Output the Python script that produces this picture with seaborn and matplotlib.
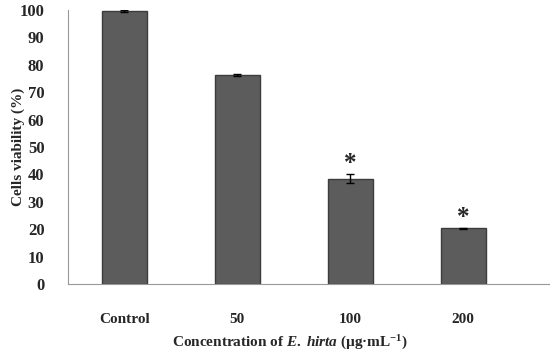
import numpy as np
import pandas as pd
import matplotlib
matplotlib.use("Agg")
import matplotlib.pyplot as plt
import seaborn as sns

# Podaci
categories = ["Control", "50", "100", "200"]
viability = [99.6, 76.3, 38.5, 20.3]
errors = [0.3, 0.5, 1.8, 0.3]
significant = [False, False, True, True]

sns.set_style("white")
plt.rcParams["font.family"] = ["Liberation Serif", "DejaVu Serif"]
plt.rcParams["font.weight"] = "bold"
plt.rcParams["mathtext.fontset"] = "custom"
plt.rcParams["mathtext.rm"] = "Liberation Serif:bold"
plt.rcParams["mathtext.bf"] = "Liberation Serif:bold"
plt.rcParams["mathtext.it"] = "Liberation Serif:italic:bold"
plt.rcParams["mathtext.bfit"] = "Liberation Serif:italic:bold"

df = pd.DataFrame({"conc": categories, "viab": viability})

fig = plt.figure(figsize=(5.5, 3.51), dpi=100)
ax = fig.add_axes([68 / 550, 1 - 284 / 351, 1 - 68 / 550, 274 / 351])

sns.barplot(data=df, x="conc", y="viab", color="#5c5c5c", width=0.4,
            edgecolor="#3c3c3c", linewidth=1.0, saturation=1, ax=ax)
ax.errorbar(range(len(categories)), viability, yerr=errors, fmt="none",
            ecolor="black", elinewidth=1, capsize=3, capthick=1)

for i, (v, e, s) in enumerate(zip(viability, errors, significant)):
    if s:
        ax.text(i, v + e - 0.5, "*", ha="center", va="bottom",
                fontsize=18, fontweight="bold")

ax.set_xlim(-0.5, 3.77)
ax.set_ylim(0, 100)
ax.set_yticks(range(0, 101, 10))
ax.set_xticks(range(len(categories)))
ax.set_xticklabels(categories, fontsize=11, fontweight="bold")
ax.set_xticks(np.arange(-0.5, 4, 1), minor=True)
ax.tick_params(axis="x", which="major", length=0, pad=21)
ax.tick_params(axis="x", which="minor", length=4, color="#999999", direction="out")
ax.tick_params(axis="y", length=4, color="#999999", direction="out", labelsize=12, pad=13)
for lab in ax.get_yticklabels():
    lab.set_fontweight("bold")

for side in ["top", "right"]:
    ax.spines[side].set_visible(False)
for side in ["left", "bottom"]:
    ax.spines[side].set_color("#999999")
    ax.spines[side].set_linewidth(0.8)

ax.set_ylabel("Cells viability (%)", fontsize=11, fontweight="bold")
ax.yaxis.set_label_coords(-43 / 482, 0.5)
ax.set_xlabel(r"Concentration of $\mathit{E.\;hirta}$ (µg·mL$^{\mathbf{-1}}$)",
              fontsize=11, fontweight="bold")
ax.xaxis.set_label_coords(222 / 482, -50 / 274)

fig.savefig("out.png", dpi=100)
